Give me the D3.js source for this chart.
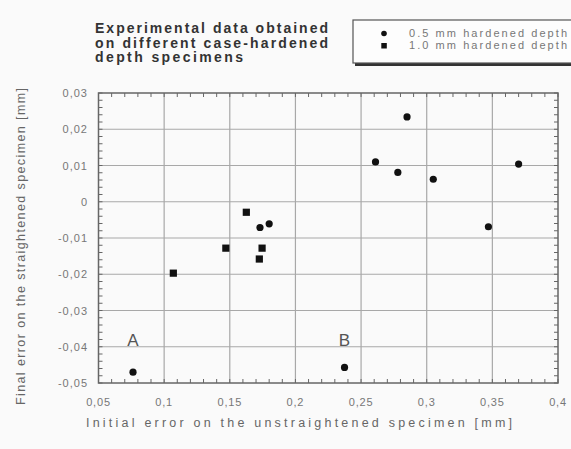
<!DOCTYPE html>
<html>
<head>
<meta charset="utf-8">
<script src="https://cdn.jsdelivr.net/npm/d3@7"></script>
<style>
  body { margin: 0; background: #fafafa; }
  svg { font-family: "Liberation Sans", Arial, sans-serif; }
</style>
</head>
<body>
<svg id="chart"></svg>
<script>
// 0.5 mm hardened depth (round markers)
var depth05X = [0.0763, 0.1730, 0.1800, 0.2610, 0.2850, 0.2780, 0.3050, 0.3700, 0.3470, 0.2374];
var depth05Y = [-0.0470, -0.0071, -0.0061, 0.0110, 0.0234, 0.0081, 0.0062, 0.0104, -0.0069, -0.0457];
// 1.0 mm hardened depth (square markers)
var depth10X = [0.1070, 0.1626, 0.1470, 0.1746, 0.1725];
var depth10Y = [-0.0197, -0.0029, -0.0128, -0.0128, -0.0158];

var xTicks = [0.05, 0.1, 0.15, 0.2, 0.25, 0.3, 0.35, 0.4];
var xTickLabels = ["0,05", "0,1", "0,15", "0,2", "0,25", "0,3", "0,35", "0,4"];
var yTicks = [0.03, 0.02, 0.01, 0, -0.01, -0.02, -0.03, -0.04, -0.05];
var yTickLabels = ["0,03", "0,02", "0,01", "0", "-0,01", "-0,02", "-0,03", "-0,04", "-0,05"];

var titleLines = ["Experimental data obtained", "on different case-hardened", "depth specimens"];
var legendLabels = ["0.5 mm hardened depth", "1.0 mm hardened depth"];

var width = 571, height = 449;
var margin = {left: 98.5, right: 13, top: 93, bottom: 66};

var svg = d3.select("#chart").attr("width", width).attr("height", height);

var x = d3.scaleLinear().domain([0.05, 0.4]).range([margin.left, width - margin.right]);
var y = d3.scaleLinear().domain([-0.05, 0.03]).range([height - margin.bottom, margin.top]);

var grid = svg.append("g");
// grid lines
grid.selectAll(".vx").data(xTicks.slice(1, -1)).enter().append("line")
  .attr("x1", function(d) { return x(d); }).attr("x2", function(d) { return x(d); })
  .attr("y1", y(0.03)).attr("y2", y(-0.05))
  .attr("stroke", "#a8a8a8").attr("stroke-width", 1.2);
grid.selectAll(".hy").data(yTicks.slice(1, -1)).enter().append("line")
  .attr("y1", function(d) { return y(d); }).attr("y2", function(d) { return y(d); })
  .attr("x1", x(0.05)).attr("x2", x(0.4))
  .attr("stroke", "#a8a8a8").attr("stroke-width", 1.2);

// minor ticks inside the frame on all four sides
var xMinor = d3.range(0, 36).map(function(i) { return 0.05 + i * 0.01; });
var yMinor = d3.range(0, 41).map(function(i) { return -0.05 + i * 0.002; });
var tk = svg.append("g").attr("stroke", "#666").attr("stroke-width", 1);
xMinor.forEach(function(v) {
  tk.append("line").attr("x1", x(v)).attr("x2", x(v)).attr("y1", y(0.03)).attr("y2", y(0.03) + 4);
  tk.append("line").attr("x1", x(v)).attr("x2", x(v)).attr("y1", y(-0.05)).attr("y2", y(-0.05) - 4);
});
yMinor.forEach(function(v) {
  tk.append("line").attr("y1", y(v)).attr("y2", y(v)).attr("x1", x(0.05)).attr("x2", x(0.05) + 4);
  tk.append("line").attr("y1", y(v)).attr("y2", y(v)).attr("x1", x(0.4)).attr("x2", x(0.4) - 4);
});

// frame
svg.append("rect")
  .attr("x", x(0.05)).attr("y", y(0.03))
  .attr("width", x(0.4) - x(0.05)).attr("height", y(-0.05) - y(0.03))
  .attr("fill", "none").attr("stroke", "#666").attr("stroke-width", 1.5);

// tick labels
svg.append("g").selectAll("text").data(xTicks).enter().append("text")
  .attr("x", function(d) { return x(d); }).attr("y", y(-0.05) + 23)
  .attr("text-anchor", "middle").attr("font-size", 11).attr("letter-spacing", 0.8).attr("fill", "#777")
  .text(function(d, i) { return xTickLabels[i]; });
svg.append("g").selectAll("text").data(yTicks).enter().append("text")
  .attr("x", 88).attr("y", function(d) { return y(d) + 4; })
  .attr("text-anchor", "end").attr("font-size", 11).attr("letter-spacing", 1).attr("fill", "#777")
  .text(function(d, i) { return yTickLabels[i]; });

// axis titles
svg.append("text").attr("x", 86).attr("y", 427)
  .attr("font-size", 12.5).attr("fill", "#666")
  .attr("textLength", 426).attr("lengthAdjust", "spacing")
  .text("Initial error on the unstraightened specimen [mm]");
svg.append("text").attr("transform", "translate(25,405) rotate(-90)")
  .attr("font-size", 12.5).attr("fill", "#666")
  .attr("textLength", 317).attr("lengthAdjust", "spacing")
  .text("Final error on the straightened specimen [mm]");

// title
var titleLengths = [233, 233, 148];
svg.append("g").selectAll("text").data(titleLines).enter().append("text")
  .attr("x", 95).attr("y", function(d, i) { return 33 + i * 14.5; })
  .attr("font-size", 14).attr("font-weight", "bold").attr("fill", "#333")
  .attr("textLength", function(d, i) { return titleLengths[i]; }).attr("lengthAdjust", "spacing")
  .text(function(d) { return d; });

// points
svg.append("g").selectAll("circle").data(depth05X).enter().append("circle")
  .attr("cx", function(d) { return x(d); })
  .attr("cy", function(d, i) { return y(depth05Y[i]); })
  .attr("r", 3.6).attr("fill", "#111");
svg.append("g").selectAll("rect").data(depth10X).enter().append("rect")
  .attr("x", function(d) { return x(d) - 3.6; })
  .attr("y", function(d, i) { return y(depth10Y[i]) - 3.6; })
  .attr("width", 7.2).attr("height", 7.2).attr("fill", "#111");

// point labels A and B
svg.append("text").attr("x", x(0.0763)).attr("y", y(-0.0398))
  .attr("text-anchor", "middle").attr("font-size", 17).attr("fill", "#555").text("A");
svg.append("text").attr("x", x(0.2374)).attr("y", y(-0.0398))
  .attr("text-anchor", "middle").attr("font-size", 17).attr("fill", "#555").text("B");

// legend
var lg = svg.append("g");
lg.append("rect").attr("x", 355).attr("y", 23).attr("width", 220).attr("height", 43).attr("fill", "#333");
lg.append("rect").attr("x", 353).attr("y", 20).attr("width", 222).attr("height", 43)
  .attr("fill", "#fdfdfd").attr("stroke", "#555").attr("stroke-width", 1.2);
lg.append("circle").attr("cx", 384).attr("cy", 33.5).attr("r", 2.8).attr("fill", "#111");
lg.append("rect").attr("x", 381.3).attr("y", 43).attr("width", 5.5).attr("height", 5.5).attr("fill", "#111");
lg.selectAll("text.l").data(legendLabels).enter().append("text")
  .attr("x", 409).attr("y", function(d, i) { return 37 + i * 12; })
  .attr("font-size", 11).attr("fill", "#777")
  .attr("textLength", 158).attr("lengthAdjust", "spacing")
  .text(function(d) { return d; });
</script>
</body>
</html>
